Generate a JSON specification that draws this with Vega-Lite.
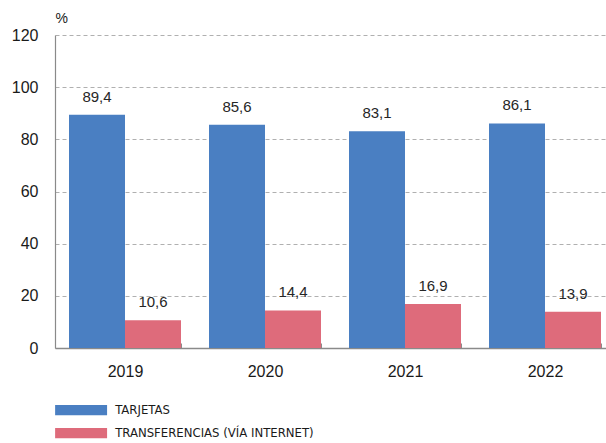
{
  "$schema": "https://vega.github.io/schema/vega-lite/v6.json",
  "width": 560,
  "height": 313,
  "autosize": "none",
  "padding": {"left": 55, "top": 35, "right": 0, "bottom": 95},
  "background": "white",
  "data": {"values": [
    {"year": "2019", "series": "TARJETAS", "value": 89.4},
    {"year": "2019", "series": "TRANSFERENCIAS (VÍA INTERNET)", "value": 10.6},
    {"year": "2020", "series": "TARJETAS", "value": 85.6},
    {"year": "2020", "series": "TRANSFERENCIAS (VÍA INTERNET)", "value": 14.4},
    {"year": "2021", "series": "TARJETAS", "value": 83.1},
    {"year": "2021", "series": "TRANSFERENCIAS (VÍA INTERNET)", "value": 16.9},
    {"year": "2022", "series": "TARJETAS", "value": 86.1},
    {"year": "2022", "series": "TRANSFERENCIAS (VÍA INTERNET)", "value": 13.9}
  ]},
  "encoding": {
    "x": {
      "field": "year", "type": "nominal",
      "scale": {"paddingInner": 0.2, "paddingOuter": 0.1},
      "axis": {
        "title": null, "labelAngle": 0, "labelFont": "Liberation Sans", "labelFontSize": 16,
        "labelColor": "#1a1a1a", "labelPadding": 20, "tickBand": "extent", "tickSize": -5,
        "tickColor": "#8a8a8a", "domainColor": "#8a8a8a", "domainWidth": 1.5, "grid": false
      }
    },
    "xOffset": {"field": "series", "sort": ["TARJETAS", "TRANSFERENCIAS (VÍA INTERNET)"]},
    "y": {
      "field": "value", "type": "quantitative",
      "scale": {"domain": [0, 120], "nice": false},
      "axis": {
        "values": [0, 20, 40, 60, 80, 100, 120],
        "title": "%", "titleAngle": 0, "titleAlign": "left", "titleBaseline": "bottom",
        "titleX": 0, "titleY": -10, "titleFont": "Liberation Sans", "titleFontSize": 14,
        "titleFontWeight": "normal", "titleColor": "#1a1a1a",
        "labelFont": "Liberation Sans", "labelFontSize": 16, "labelColor": "#1a1a1a",
        "labelPadding": 17, "ticks": false,
        "domainColor": "#8a8a8a", "domainWidth": 1.2,
        "grid": true, "gridColor": "#b0b0b0", "gridDash": [4, 3], "gridWidth": 1
      }
    }
  },
  "layer": [
    {
      "mark": {"type": "bar"},
      "encoding": {
        "color": {
          "field": "series", "type": "nominal",
          "sort": ["TARJETAS", "TRANSFERENCIAS (VÍA INTERNET)"],
          "scale": {"domain": ["TARJETAS", "TRANSFERENCIAS (VÍA INTERNET)"], "range": ["#4a7fc2", "#de6b7b"]},
          "legend": {
            "title": null, "orient": "none", "legendX": 15.6, "legendY": 364.6,
            "padding": 0, "direction": "vertical",
            "symbolType": "M-2.5,-0.5H2.5V0.5H-2.5Z", "symbolSize": 432, "symbolStrokeWidth": 0,
            "labelOffset": 23.6, "rowPadding": 5,
            "labelFont": "DejaVu Sans Condensed", "labelFontSize": 13, "labelColor": "#1a1a1a",
            "labelLimit": 400
          }
        }
      }
    },
    {
      "mark": {"type": "text", "baseline": "bottom", "dy": -10, "font": "Liberation Sans", "fontSize": 15, "color": "#262626"},
      "encoding": {
        "text": {"field": "value", "type": "quantitative", "format": ".1f"}
      }
    }
  ],
  "config": {
    "locale": {"number": {"decimal": ",", "thousands": ".", "grouping": [3], "currency": ["", " €"]}},
    "view": {"stroke": null}
  }
}
